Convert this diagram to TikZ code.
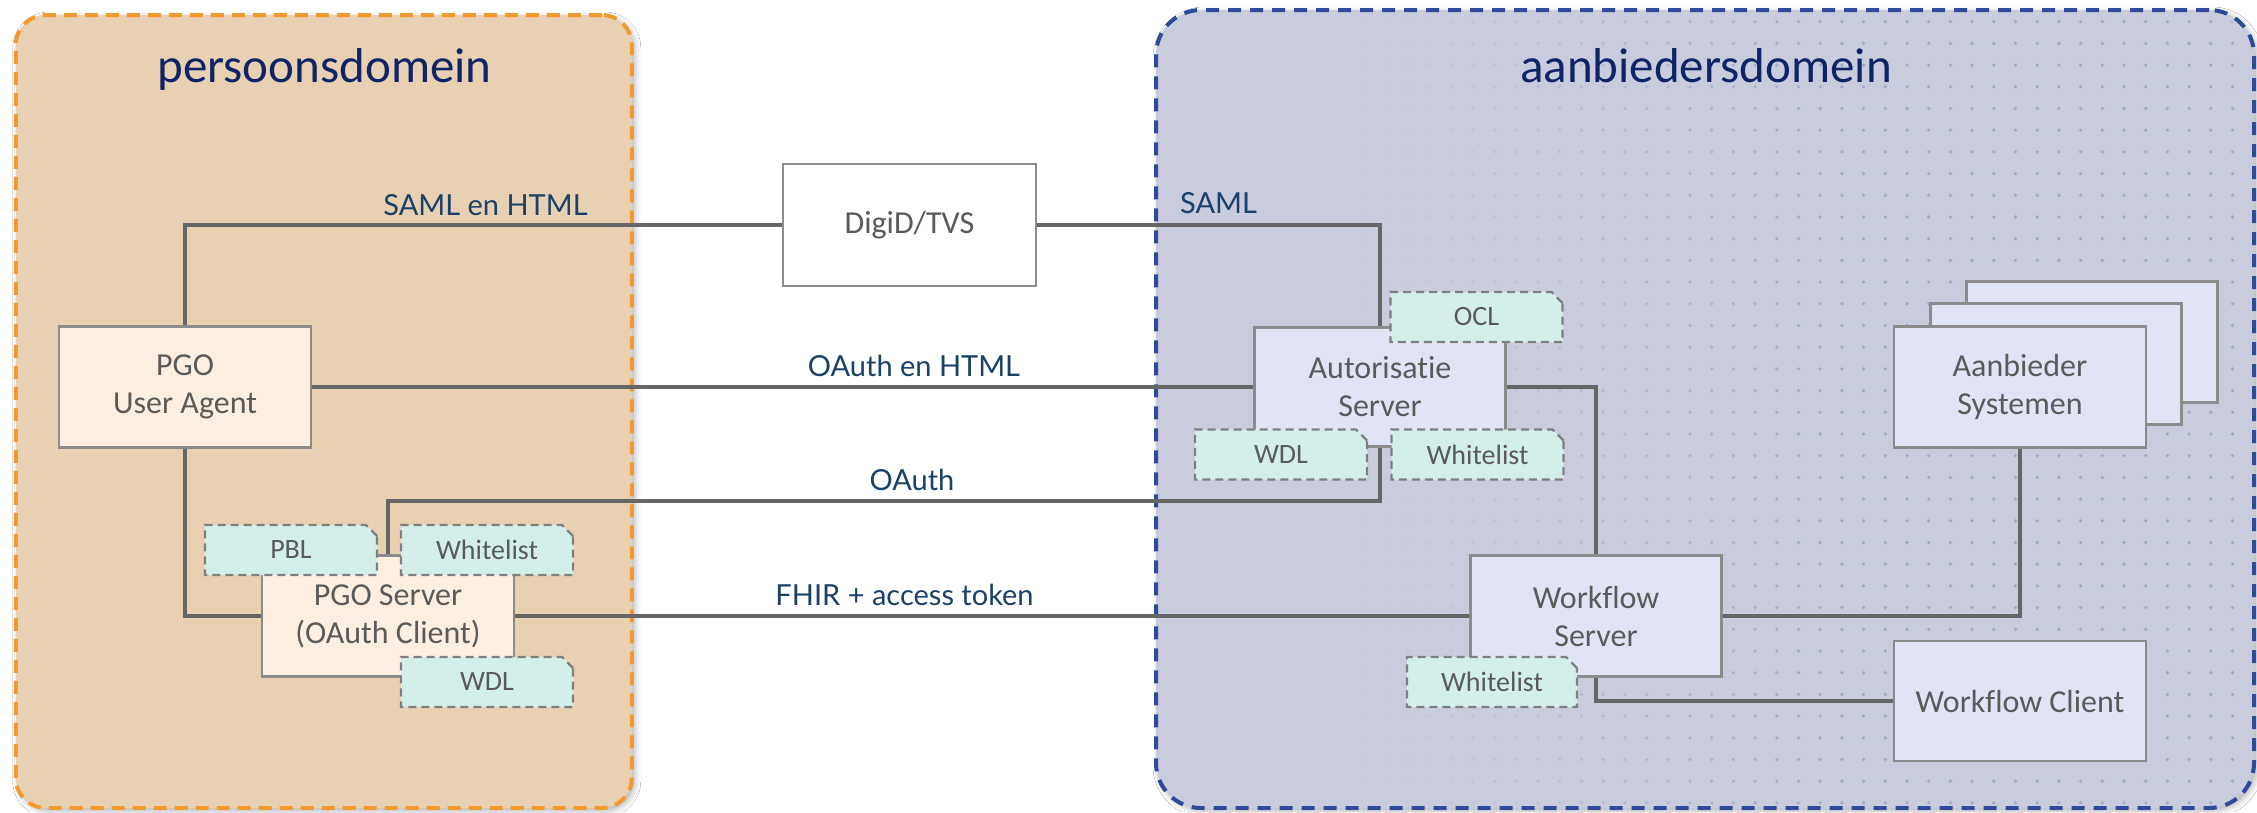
\documentclass[tikz,border=0pt]{standalone}
\usepackage{fontspec}
\setmainfont{Carlito}[Ligatures=NoCommon]
\newfontfamily\latofont{Lato}
\usetikzlibrary{shapes.misc,shadows.blur}
\definecolor{orangefill}{HTML}{E8D0B3}
\definecolor{orangeline}{HTML}{F39A2E}
\definecolor{bluefill}{HTML}{C9CCDC}
\definecolor{blueline}{HTML}{2F4A9A}
\definecolor{titlecol}{HTML}{0E2466}
\definecolor{labelcol}{HTML}{1A4169}
\definecolor{boxline}{HTML}{8C8C8C}
\definecolor{txtgray}{HTML}{5A5A5A}
\definecolor{creamfill}{HTML}{FCEFE2}
\definecolor{lavfill}{HTML}{E1E4F4}
\definecolor{mintfill}{HTML}{D4EFEA}
\definecolor{notebord}{HTML}{7F7F7F}
\definecolor{conncol}{HTML}{666666}
\definecolor{dotcol}{HTML}{A0A8C6}
\begin{document}
\begin{tikzpicture}[x=1pt,y=-1pt,
  domA/.style={draw=orangeline, fill=orangefill, line width=4pt, dash pattern=on 13pt off 8pt,
    rounded corners=30pt, minimum width=616pt, minimum height=793pt, inner sep=0pt,
    blur shadow={shadow xshift=3pt, shadow yshift=-3pt, shadow blur radius=6pt, shadow opacity=30}},
  domB/.style={draw=blueline, fill=bluefill, line width=4pt, dash pattern=on 13pt off 9pt,
    rounded corners=45pt, minimum width=1098pt, minimum height=798pt, inner sep=0pt,
    blur shadow={shadow xshift=3pt, shadow yshift=-3pt, shadow blur radius=6pt, shadow opacity=30}},
  box/.style={draw=boxline, line width=2.5pt, minimum width=252pt, minimum height=121pt,
    align=center, text=txtgray, inner sep=0pt, font=\fontsize{32}{38}\selectfont},
  note/.style={chamfered rectangle, chamfered rectangle corners=north east,
    chamfered rectangle xsep=4pt, chamfered rectangle ysep=7pt,
    draw=notebord, dash pattern=on 8pt off 5pt, line width=2.2pt,
    fill=mintfill, minimum width=172pt, minimum height=50pt, inner sep=0pt,
    text=txtgray, font=\fontsize{28}{31}\selectfont},
  conn/.style={draw=conncol, line width=4pt},
  lbl/.style={text=labelcol, font=\latofont\fontsize{29}{34}\selectfont, anchor=base, inner sep=0pt},
  title/.style={text=titlecol, font=\fontsize{49}{58}\selectfont, anchor=base, inner sep=0pt}
]
\useasboundingbox (0,0) rectangle (2257,812);
\fill[white] (0,0) rectangle (2257,812);

% domains
\node[domA] (pd) at (323.8,411.5) {};
\node[domB] (ad) at (1705,409) {};
\begin{scope}
  \clip[rounded corners=42pt] (1160,14) rectangle (2250,804);
  \foreach \i in {0,...,51}{
    \foreach \j in {1,...,37}{
      \pgfmathsetmacro\xx{1147.5+21.7*\i}
      \pgfmathsetmacro\op{max(0,min(1,(\xx-1350)/500))}
      \fill[dotcol, opacity=\op] (\xx,21.7*\j) circle (1.8pt);
    }
  }
\end{scope}

% titles
\node[title] (t1) at (324.5,82) {persoonsdomein};
\node[title] (t2) at (1706,82) {aanbiedersdomein};

% main boxes
\node[box, fill=creamfill] (ua) at (185,387) {PGO\\User Agent};
\node[box, fill=white, minimum height=122pt, minimum width=253pt] (digid) at (909.5,225) {DigiD/TVS};
\node[box, fill=lavfill, minimum height=119pt, minimum width=251pt] (auth) at (1380,387) {Autorisatie\\Server};
\node[box, fill=creamfill] (pgos) at (388,616) {PGO Server\\(OAuth Client)};
\node[box, fill=lavfill, minimum width=251pt] (wfs) at (1596,616) {Workflow\\Server};
\node[box, fill=lavfill, minimum height=120pt] (wfc) at (2020,701) {Workflow Client};
\node[box, fill=lavfill, minimum width=251pt] (aan3) at (2092,342) {};
\node[box, fill=lavfill, minimum width=251pt] (aan2) at (2056,364) {};
\node[box, fill=lavfill] (aan1) at (2020,387) {Aanbieder\\Systemen};

% notes
\node[note] (ocl) at (1476.5,317) {OCL};
\node[note] (wdla) at (1281,454.5) {WDL};
\node[note] (wla) at (1477.5,454.5) {Whitelist};
\node[note] (pbl) at (291,550) {PBL};
\node[note] (wlp) at (487,550) {Whitelist};
\node[note] (wdlp) at (487,682) {WDL};
\node[note, minimum width=170pt] (wlw) at (1492,682) {Whitelist};

% connectors
\coordinate (oy) at (0,501);
\draw[conn] (ua.north) |- (digid.west);
\draw[conn] (digid.east) -| (auth.north);
\draw[conn] (ua.east) -- (auth.west);
\draw[conn] (auth.south) -- (auth.south |- oy) -| (pgos.north);
\draw[conn] (ua.south) |- (pgos.west);
\draw[conn] (pgos.east) -- (wfs.west);
\draw[conn] (auth.east) -| (wfs.north);
\draw[conn] (wfs.east) -| (aan1.south);
\draw[conn] (wfs.south) |- (wfc.west);

% labels
\node[lbl] (l1) at (485.5,215) {SAML en HTML};
\node[lbl] (l2) at (1218.5,213) {SAML};
\node[lbl] (l3) at (914,376) {OAuth en HTML};
\node[lbl] (l4) at (912,490) {OAuth};
\node[lbl] (l5) at (904.5,605) {FHIR + access token};
\end{tikzpicture}
\end{document}
